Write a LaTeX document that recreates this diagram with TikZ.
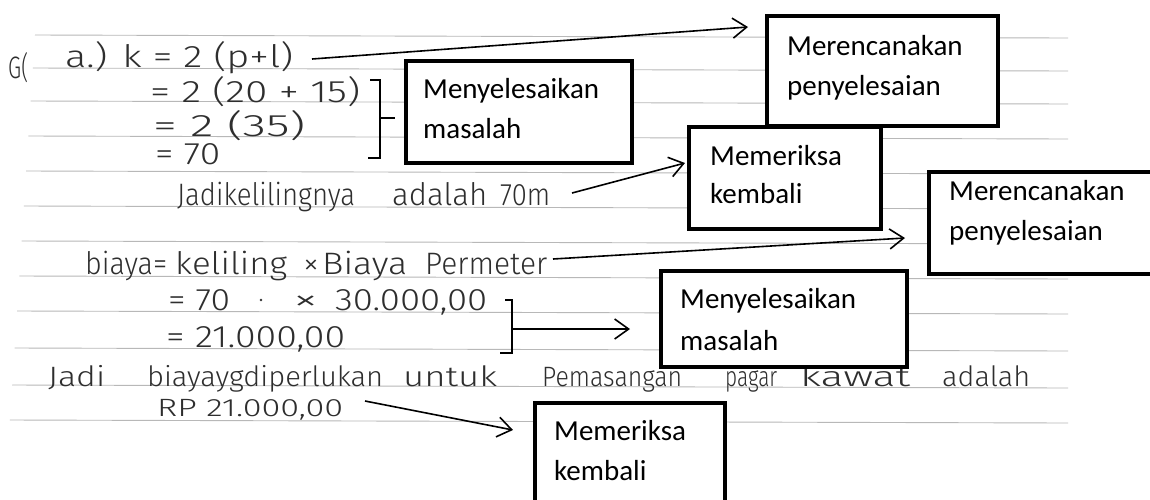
\documentclass[tikz,border=0pt]{standalone}
\usepackage{fontspec}
\usepackage{graphicx}
\setmainfont{Carlito}
\newfontfamily\handfont{Fira Sans Light}
\usetikzlibrary{arrows.meta,calc}
\tikzset{
  rule/.style={draw=black!28, line width=0.9pt},
  boxnode/.style={draw=black, line width=4.2pt, fill=white, inner sep=0pt, anchor=north west},
  lbl/.style={anchor=base west, inner sep=0pt, font=\fontsize{29}{35}\selectfont},
  hand/.style={anchor=base west, inner sep=0pt, text=black!82},
  conn/.style={draw=black, line width=1.6pt, -{Straight Barb[length=14pt,width=20pt]}},
  bracestyle/.style={draw=black, line width=1.8pt},
}
\newcommand\hwtext[3][31]{\resizebox{#2pt}{\height}{\handfont\fontsize{#1}{#1}\selectfont #3}}
\begin{document}
\begin{tikzpicture}[x=1pt,y=-1pt]
\useasboundingbox (0,0) rectangle (1150,499);
\fill[white] (0,0) rectangle (1150,499);
\clip (0,0) rectangle (1150,499);
% ruled lines
\foreach \yy in {35,68,101,136,171,206,241,276,311,348,385,420}
  \draw[rule] ({35-(\yy-35)*0.065},\yy) -- (1068,{\yy+3});
% handwriting
\node[hand] (hG) at (8,78) {\hwtext{20}{G(}};
\node[hand] (h1) at (65,67) {\hwtext{228}{a.) k = 2 (p+l)}};
\node[hand] (h2) at (150,102) {\hwtext{210}{= 2 (20 + 15)}};
\node[hand] (h3) at (153,136) {\hwtext{152}{= 2 (35)}};
\node[hand] (h4) at (155,164) {\hwtext{65}{= 70}};
\node[hand] (h5a) at (177,205) {\hwtext{178}{Jadikelilingnya}};
\node[hand] (h5b) at (392,205) {\hwtext{95}{adalah}};
\node[hand] (h5c) at (500,205) {\hwtext{50}{70m}};
\node[hand] (h6a) at (85,274) {\hwtext{82}{biaya=}};
\node[hand] (h6b) at (175,274) {\hwtext{112}{keliling}};
\node[hand] (h6c) at (303,274) {\hwtext{16}{×}};
\node[hand] (h6d) at (322,274) {\hwtext{85}{Biaya}};
\node[hand] (h6e) at (425,274) {\hwtext{122}{Permeter}};
\node[hand] (h7a) at (168,310) {\hwtext{62}{= 70}};
\fill[black!80] (261,300) circle (1.3);
\node[hand] (h7c) at (293,310) {\hwtext{25}{×}};
\node[hand] (h7d) at (335,310) {\hwtext{152}{30.000,00}};
\node[hand] (h8) at (166,347) {\hwtext{179}{= 21.000,00}};
\node[hand] (h9a) at (48,386) {\hwtext[28]{57}{Jadi}};
\node[hand] (h9b) at (147,386) {\hwtext[28]{236}{biayaygdiperlukan}};
\node[hand] (h9c) at (403,386) {\hwtext[28]{94}{untuk}};
\node[hand] (h9d) at (542,386) {\hwtext[28]{140}{Pemasangan}};
\node[hand] (h9e) at (725,386) {\hwtext[28]{52}{pagar}};
\node[hand] (h9f) at (800,386) {\hwtext[28]{110}{kawat}};
\node[hand] (h9g) at (942,386) {\hwtext[28]{88}{adalah}};
\node[hand] (h10) at (157,416) {\hwtext[25]{186}{RP 21.000,00}};
% braces
\draw[bracestyle] (370,80) -- (380,80) -- (380,158) -- (368,158);
\draw[bracestyle] (380,118) -- (395,118);
\draw[bracestyle] (505,300) -- (512,300) -- (512,353) -- (500,353);
% connector end points
\coordinate (a1s) at (312,59);
\coordinate (a1e) at (748,27);
\coordinate (a2s) at (572,193);
\coordinate (a2e) at (685,163);
\coordinate (a3s) at (553,259);
\coordinate (a3e) at (905,238);
\coordinate (a4s) at (511,329);
\coordinate (a4e) at (630,329);
\coordinate (a5s) at (365,401);
\coordinate (a5e) at (513,430);
\draw[conn] (a1s) -- (a1e);
\draw[conn] (a2s) -- (a2e);
\draw[conn] (a3s) -- (a3e);
\draw[conn] (a4s) -- (a4e);
\draw[conn] (a5s) -- (a5e);
% boxes
\node[boxnode, minimum width=231pt, minimum height=110pt] (b1) at (765,14) {};
\node[boxnode, minimum width=226pt, minimum height=102pt] (b2) at (404,59) {};
\node[boxnode, minimum width=240pt, minimum height=102pt] (b4) at (927,170) {};
\node[boxnode, minimum width=192pt, minimum height=102pt] (b3) at (687,125) {};
\node[boxnode, minimum width=246pt, minimum height=96pt] (b5) at (659,269) {};
\node[boxnode, minimum width=190pt, minimum height=130pt] (b6) at (533,401) {};
% labels
\node[lbl] (t1a) at (787,55) {Merencanakan};
\node[lbl] (t1b) at (787,95) {penyelesaian};
\node[lbl] (t2a) at (423,98) {Menyelesaikan};
\node[lbl] (t2b) at (423,138) {masalah};
\node[lbl] (t3a) at (710,165) {Memeriksa};
\node[lbl] (t3b) at (710,203) {kembali};
\node[lbl] (t4a) at (949,200) {Merencanakan};
\node[lbl] (t4b) at (949,240) {penyelesaian};
\node[lbl] (t5a) at (680,308) {Menyelesaikan};
\node[lbl] (t5b) at (680,350) {masalah};
\node[lbl] (t6a) at (554,440) {Memeriksa};
\node[lbl] (t6b) at (554,480) {kembali};
\end{tikzpicture}
\end{document}
